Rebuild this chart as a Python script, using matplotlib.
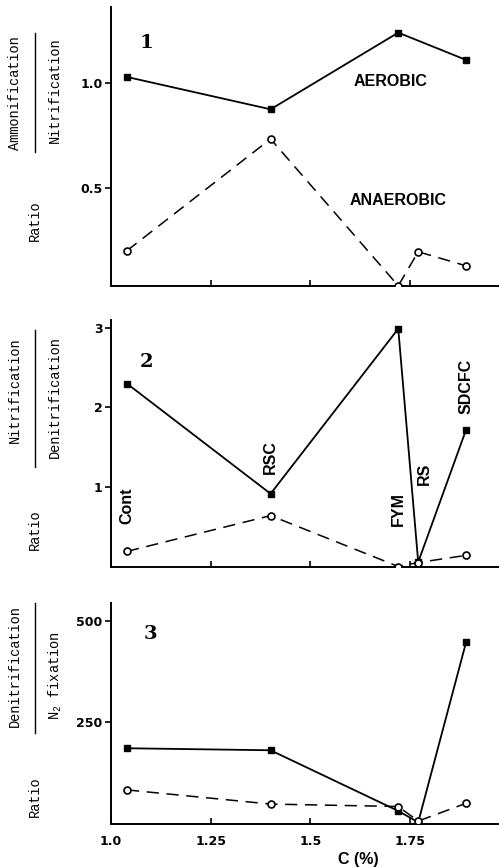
import numpy as np
import matplotlib.pyplot as plt
from matplotlib.lines import Line2D

plt.rcParams['mathtext.fontset'] = 'custom'
plt.rcParams['mathtext.rm'] = 'Liberation Mono'

# treatments and their soil carbon content
treatments = ['Cont', 'RSC', 'FYM', 'RS', 'SDCFC']
carbon = [1.04, 1.40, 1.72, 1.77, 1.89]

# panel 1: ammonification / nitrification
amm_aer = [1.03, 0.876, 1.241, np.nan, 1.111]
amm_ana = [0.203, 0.735, 0.036, 0.198, 0.131]
# panel 2: nitrification / denitrification
nit_aer = [2.30, 0.915, 2.99, 0.055, 1.72]
nit_ana = [0.19, 0.64, 0.0, 0.05, 0.14]
# panel 3: denitrification / N2 fixation
den_aer = [186, 181, 31, 3, 448]
den_ana = [83, 48, 42, 6, 50]

W, H = 499, 867
fig = plt.figure(figsize=(W / 100, H / 100), dpi=100)

def fy(px):
    return 1 - px / H

def fx(px):
    return px / W

tick_font = dict(family=['Liberation Sans Narrow', 'DejaVu Sans'], weight='bold', size=9)
lab_font = dict(family=['Liberation Sans', 'DejaVu Sans'], weight='bold', size=11.5)
mono = dict(family=['Liberation Mono', 'DejaVu Sans Mono'], size=9.8)

# axes boxes in pixels: (top, bottom)
boxes = [(7, 286), (320, 566.5), (603, 823.5)]
axs = []
for top, bot in boxes:
    ax = fig.add_axes([fx(111), fy(bot), fx(499 - 111 - 1), (bot - top) / H])
    axs.append(ax)

def plot_pair(ax, aer, ana):
    x = np.array(carbon)
    a = np.array(aer, dtype=float)
    m = ~np.isnan(a)
    ax.plot(x[m], a[m], '-', color='black', lw=1.3, marker='s', ms=5,
            mfc='black', mec='black', zorder=3)
    ax.plot(x, ana, '--', color='black', lw=1.1, dashes=(8, 5), marker='o',
            ms=5, mfc='white', mec='black', mew=1.2, zorder=3)

plot_pair(axs[0], amm_aer, amm_ana)
plot_pair(axs[1], nit_aer, nit_ana)
plot_pair(axs[2], den_aer, den_ana)

axs[0].set_ylim(0.035, 1.363)
axs[0].set_yticks([0.5, 1.0])
axs[0].set_yticklabels(['0.5', '1.0'])
axs[1].set_ylim(0, 3.1)
axs[1].set_yticks([1, 2, 3])
axs[1].set_yticklabels(['1', '2', '3'])
axs[2].set_ylim(0, 545)
axs[2].set_yticks([250, 500])
axs[2].set_yticklabels(['250', '500'])

for ax in axs:
    ax.set_xlim(1.0, 1.97)
    ax.set_xticks([1.0, 1.25, 1.5, 1.75])
    ax.spines['top'].set_visible(False)
    ax.spines['right'].set_visible(False)
    ax.spines['left'].set_linewidth(1.4)
    ax.spines['bottom'].set_linewidth(1.4)
    ax.tick_params(axis='x', direction='in', length=4, width=1.2)
    ax.tick_params(axis='y', direction='out', length=4, width=1.2, pad=2)
    for t in ax.get_yticklabels():
        t.set(**tick_font)

axs[0].set_xticklabels([])
axs[1].set_xticklabels([])
axs[2].set_xticklabels(['1.0', '1.25', '1.5', '1.75'])
for t in axs[2].get_xticklabels():
    t.set(**tick_font)
axs[2].tick_params(axis='x', pad=8)
axs[2].set_xlabel('C (%)', labelpad=2, **lab_font)
axs[2].xaxis.set_label_coords(0.64, -0.13)

# panel numbers
num_font = dict(family=['DejaVu Serif'], weight='bold', size=14)
axs[0].text(1.09, 1.19, '1', ha='center', va='center', **num_font)
axs[1].text(1.09, 2.57, '2', ha='center', va='center', **num_font)
axs[2].text(1.10, 468, '3', ha='center', va='center', **num_font)

# annotations
axs[0].text(1.70, 1.01, 'AEROBIC', ha='center', va='center', **lab_font)
axs[0].text(1.72, 0.44, 'ANAEROBIC', ha='center', va='center', **lab_font)
name_y = [0.77, 1.38, 0.72, 1.16, 2.27]
for name, xc, yc in zip(treatments, carbon, name_y):
    xt = xc + (0.015 if name == 'RS' else 0.0)
    axs[1].text(xt, yc, name, rotation=90, ha='center', va='center', **lab_font)

# fraction style y labels
ylabels = [
    ('Ammonification', 93.5, (33, 152), 'Nitrification', 90.5, 221),
    ('Nitrification', 390, (330, 467), 'Denitrification', 397, 529.5),
    ('Denitrification', 666, (603, 733), r'N$_\mathrm{2}$ fixation', 675.5, 797),
]
for num, ny, (l0, l1), den, dy, ry in ylabels:
    fig.text(fx(15), fy(ny), num, rotation=90, ha='center', va='center', **mono)
    fig.text(fx(55), fy(dy), den, rotation=90, ha='center', va='center', **mono)
    fig.text(fx(35), fy(ry), 'Ratio', rotation=90, ha='center', va='center', **mono)
    fig.add_artist(Line2D([fx(35), fx(35)], [fy(l0), fy(l1)], color='black',
                          lw=1.0, transform=fig.transFigure))

plt.savefig('out.png', dpi=100)
